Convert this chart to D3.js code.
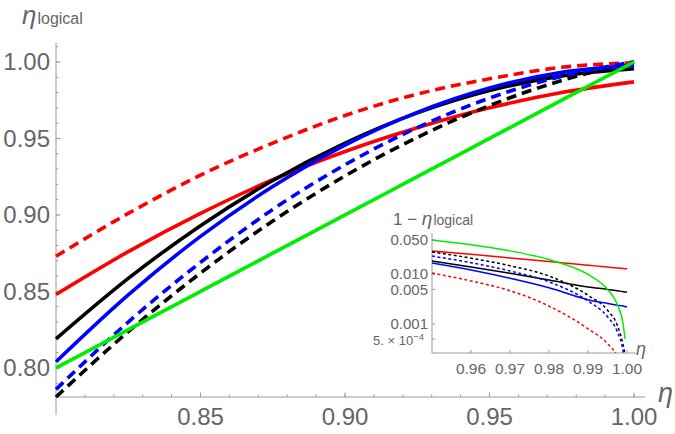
<!DOCTYPE html>
<html><head><meta charset="utf-8">
<script src="https://cdn.jsdelivr.net/npm/d3@7"></script>
<style>
html,body{margin:0;padding:0;background:#fff;}
svg{display:block;font-family:"Liberation Sans",Arial,sans-serif;}
</style></head>
<body><svg id="c" width="675" height="434"></svg>
<script>
// ---------- data ----------
const etaMain = [0.80, 0.825, 0.85, 0.875, 0.90, 0.925, 0.95, 0.975, 1.00];
const redSolidMain    = [0.848, 0.876, 0.901, 0.923, 0.9415, 0.957, 0.970, 0.980, 0.987];
const redDashedMain   = [0.873, 0.901, 0.926, 0.947, 0.965, 0.979, 0.989, 0.9965, 0.9995];
const blackSolidMain  = [0.819, 0.8585, 0.893, 0.9225, 0.947, 0.9667, 0.9813, 0.9909, 0.9956];
const blackDashedMain = [0.781, 0.8237, 0.862, 0.896, 0.9255, 0.9507, 0.9715, 0.9879, 1.0];
const blueSolidMain   = [0.804, 0.8477, 0.886, 0.9186, 0.9457, 0.9671, 0.983, 0.9932, 0.9978];
const blueDashedMain  = [0.786, 0.830, 0.869, 0.9036, 0.9328, 0.9571, 0.9764, 0.9907, 1.0];
const greenMain       = [0.80, 0.825, 0.85, 0.875, 0.90, 0.925, 0.95, 0.975, 1.00];

const etaInset = [0.95, 0.96, 0.97, 0.98, 0.99, 0.995, 0.9975, 0.999, 0.9995, 1.0];
const redSolidInset    = [0.0298, 0.0255, 0.0216, 0.0183, 0.0154, 0.0141, 0.0135, 0.0132, 0.0131, 0.013];
const redDashedInset   = [0.0107, 0.0074, 0.0047, 0.0023, 0.0008, 0.0004, 0.00022, 0.0001, 0.00005, 0];
const blackSolidInset  = [0.0187, 0.0142, 0.0106, 0.0077, 0.0056, 0.0050, 0.0047, 0.0045, 0.00445, 0.0044];
const blackDashedInset = [0.0285, 0.0214, 0.015, 0.0093, 0.0038, 0.0019, 0.00095, 0.00038, 0.00024, 0];
const blueSolidInset   = [0.017, 0.0123, 0.0084, 0.0054, 0.0031, 0.0026, 0.0024, 0.0023, 0.00225, 0.0022];
const blueDashedInset  = [0.0236, 0.0173, 0.0118, 0.0071, 0.0029, 0.0014, 0.0007, 0.00028, 0.00014, 0];
const greenInset       = [0.05, 0.04, 0.03, 0.02, 0.01, 0.005, 0.0025, 0.001, 0.0005, 0];

const mainXTicks = [0.85, 0.90, 0.95, 1.00];
const mainYTicks = [0.80, 0.85, 0.90, 0.95, 1.00];
const insetXTicks = [0.96, 0.97, 0.98, 0.99, 1.00];
const insetYTicks = [0.05, 0.01, 0.005, 0.001, 0.0005];
const insetYLabels = ["0.050", "0.010", "0.005", "0.001"];

// ---------- styles ----------
const series = [
  {main: redDashedMain,   inset: redDashedInset,   color: "#ff0000", dashed: true},
  {main: redSolidMain,    inset: redSolidInset,    color: "#ff0000", dashed: false},
  {main: blackSolidMain,  inset: blackSolidInset,  color: "#000000", dashed: false},
  {main: blackDashedMain, inset: blackDashedInset, color: "#000000", dashed: true},
  {main: blueSolidMain,   inset: blueSolidInset,   color: "#0000ff", dashed: false},
  {main: blueDashedMain,  inset: blueDashedInset,  color: "#0000ff", dashed: true},
  {main: greenMain,       inset: greenInset,       color: "#00ee00", dashed: false}
];

const svg = d3.select("#c");
const axisColor = "#9a9a9a", labelColor = "#666666";

// ---------- main plot ----------
const x = d3.scaleLinear().domain([0.8, 1.0038]).range([56, 645]);
const y = d3.scaleLinear().domain([0.781, 1.0124]).range([397, 43]);

const gm = svg.append("g");
gm.append("line").attr("x1", x(0.8)).attr("x2", x(0.8)).attr("y1", y.range()[1]).attr("y2", 415)
  .attr("stroke", axisColor).attr("stroke-width", 1);
gm.append("line").attr("x1", x.range()[0]).attr("x2", x.range()[1]).attr("y1", y(0.781)).attr("y2", y(0.781))
  .attr("stroke", axisColor).attr("stroke-width", 1);
const xMinor = d3.range(0.81, 1.004, 0.01);
gm.selectAll(".xmn").data(xMinor).enter().append("line")
  .attr("x1", d => x(d)).attr("x2", d => x(d)).attr("y1", y(0.781)).attr("y2", y(0.781) - 2.5)
  .attr("stroke", axisColor);
gm.selectAll(".xmj").data(mainXTicks).enter().append("line")
  .attr("x1", d => x(d)).attr("x2", d => x(d)).attr("y1", y(0.781)).attr("y2", y(0.781) - 4.5)
  .attr("stroke", axisColor);
const yMinor = d3.range(0.79, 1.011, 0.01);
gm.selectAll(".ymn").data(yMinor).enter().append("line")
  .attr("x1", x(0.8)).attr("x2", x(0.8) + 2.5).attr("y1", d => y(d)).attr("y2", d => y(d))
  .attr("stroke", axisColor);
gm.selectAll(".ymj").data(mainYTicks).enter().append("line")
  .attr("x1", x(0.8)).attr("x2", x(0.8) + 4.5).attr("y1", d => y(d)).attr("y2", d => y(d))
  .attr("stroke", axisColor);
gm.selectAll(".xl").data(mainXTicks).enter().append("text")
  .attr("x", d => x(d)).attr("y", 425).attr("text-anchor", "middle")
  .attr("font-size", 24).attr("fill", labelColor).text(d => d3.format(".2f")(d));
gm.selectAll(".yl").data(mainYTicks).enter().append("text")
  .attr("x", 50).attr("y", d => y(d) + 8.5).attr("text-anchor", "end")
  .attr("font-size", 24).attr("fill", labelColor).text(d => d3.format(".2f")(d));
const yt = gm.append("text").attr("x", 22).attr("y", 24).attr("fill", labelColor);
yt.append("tspan").attr("font-size", 26).attr("font-style", "italic").text("η");
yt.append("tspan").attr("font-size", 16).attr("dx", 1).text("logical");
gm.append("text").attr("x", 658).attr("y", 402).attr("fill", labelColor)
  .attr("font-size", 27).attr("font-style", "italic").text("η");

const lineMain = d3.line().x(d => x(d[0])).y(d => y(d[1])).curve(d3.curveMonotoneX);
series.forEach(s => {
  gm.append("path").datum(etaMain.map((e, i) => [e, s.main[i]]))
    .attr("d", lineMain).attr("fill", "none").attr("stroke", s.color)
    .attr("stroke-width", 3.6)
    .attr("stroke-dasharray", s.dashed ? "10,6" : null);
});

// ---------- inset ----------
const xi = d3.scaleLinear().domain([0.95, 1.00231]).range([432, 636]);
const yi = d3.scaleLog().domain([2.594e-4, 0.0689]).range([353, 233]);
const gi = svg.append("g");
svg.append("defs").append("clipPath").attr("id", "ic").append("rect")
  .attr("x", 432).attr("y", 225).attr("width", 204).attr("height", 128);

gi.append("line").attr("x1", xi(0.95)).attr("x2", xi(0.95)).attr("y1", 233).attr("y2", 353)
  .attr("stroke", axisColor);
gi.append("line").attr("x1", 432).attr("x2", 636).attr("y1", 353).attr("y2", 353)
  .attr("stroke", axisColor);
gi.selectAll(".ixt").data(insetXTicks).enter().append("line")
  .attr("x1", d => xi(d)).attr("x2", d => xi(d)).attr("y1", 353).attr("y2", 350)
  .attr("stroke", axisColor);
gi.selectAll(".iyt").data(insetYTicks).enter().append("line")
  .attr("x1", 432).attr("x2", 435).attr("y1", d => yi(d)).attr("y2", d => yi(d))
  .attr("stroke", axisColor);
gi.selectAll(".ixl").data(insetXTicks).enter().append("text")
  .attr("x", d => xi(d)).attr("y", 374).attr("text-anchor", "middle")
  .attr("font-size", 15.5).attr("fill", labelColor).text(d => d3.format(".2f")(d));
const yOff = [5.5, 4.5, 6, 5];
gi.selectAll(".iyl").data(insetYTicks.slice(0, 4)).enter().append("text")
  .attr("x", 428).attr("y", (d, i) => yi(d) + yOff[i]).attr("text-anchor", "end")
  .attr("font-size", 15).attr("fill", labelColor).text((d, i) => insetYLabels[i]);
const t5 = gi.append("text").attr("x", 424).attr("y", yi(0.0005) + 6).attr("text-anchor", "end")
  .attr("font-size", 13).attr("fill", labelColor);
t5.append("tspan").text("5. × 10");
t5.append("tspan").attr("font-size", 9.5).attr("dy", -5).text("−4");
const it = gi.append("text").attr("x", 393).attr("y", 225).attr("fill", labelColor);
it.append("tspan").attr("font-size", 17).text("1 − ");
it.append("tspan").attr("font-size", 19).attr("font-style", "italic").text("η");
it.append("tspan").attr("font-size", 14).attr("dx", 1).text("logical");
gi.append("text").attr("x", 636).attr("y", 355).attr("fill", labelColor)
  .attr("font-size", 18).attr("font-style", "italic").text("η");

const lineInset = d3.line().defined(d => d[1] > 0)
  .x(d => xi(d[0])).y(d => yi(d[1])).curve(d3.curveMonotoneX);
const gc = gi.append("g").attr("clip-path", "url(#ic)");
series.forEach(s => {
  gc.append("path").datum(etaInset.map((e, i) => [e, s.inset[i]]))
    .attr("d", lineInset).attr("fill", "none").attr("stroke", s.color)
    .attr("stroke-width", 1.5)
    .attr("stroke-dasharray", s.dashed ? "3,2.5" : null);
});
</script></body></html>
